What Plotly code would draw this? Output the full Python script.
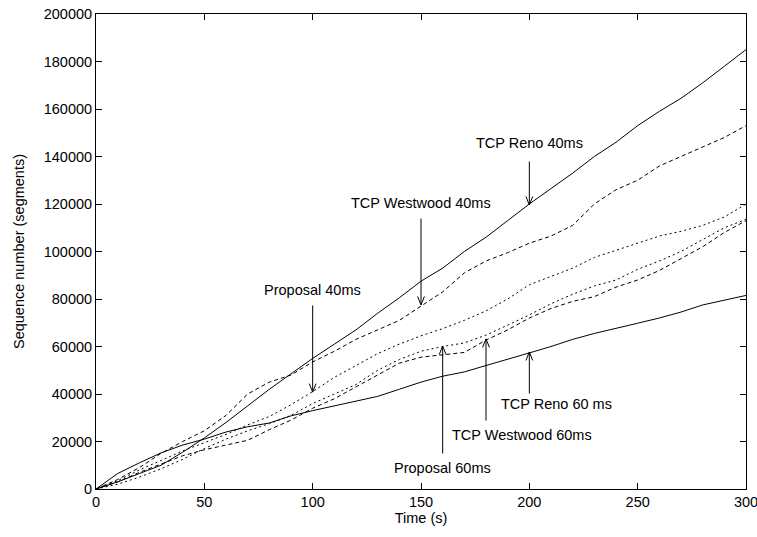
import plotly.graph_objects as go

time_s = list(range(0, 301, 10))

reno_40 = [0, 3000, 6500, 10000, 15500, 21500, 28000, 35000, 42000, 48500, 55000,
           61000, 67000, 74000, 80500, 87500, 93000, 100000, 106000, 113000, 120000,
           126500, 133000, 140000, 146000, 153000, 159000, 164500, 171000, 178000, 185000]
westwood_40 = [0, 4000, 9000, 15000, 20000, 24500, 31000, 40000, 45000, 48000, 53500,
               58000, 63000, 67000, 71000, 77000, 83000, 91000, 96000, 99500, 103500,
               106500, 111000, 120000, 126000, 130000, 136000, 140000, 144000, 148000, 153000]
proposal_40 = [0, 3500, 8000, 12000, 16000, 19500, 23000, 27000, 30500, 35500, 41000,
               47000, 52000, 57000, 61000, 64500, 67500, 71000, 75000, 80000, 86000,
               89500, 93000, 97500, 100500, 103500, 106500, 108500, 111000, 114500, 120000]
reno_60 = [0, 6500, 11000, 15200, 18500, 21000, 24000, 26200, 27800, 30800, 33000,
           35000, 37000, 39000, 42000, 45000, 47500, 49300, 52000, 54500, 57300,
           60000, 63000, 65500, 67500, 69800, 72000, 74500, 77500, 79500, 81500]
westwood_60 = [0, 3000, 7000, 10500, 14000, 16500, 18500, 20500, 25000, 29000, 34000,
               38000, 43000, 48000, 53000, 55500, 56500, 57500, 62700, 67000, 72000,
               76000, 79000, 81000, 85000, 88000, 92000, 97000, 102000, 108000, 113000]
proposal_60 = [0, 2000, 5000, 8500, 12500, 17000, 21000, 24500, 27500, 31000, 36000,
               40000, 44000, 50000, 54500, 58000, 60000, 61500, 64800, 69000, 73300,
               78000, 82000, 85500, 88000, 92500, 96000, 100000, 105000, 110000, 113500]

series = [
    ("TCP Reno 40ms", reno_40, "solid"),
    ("TCP Westwood 40ms", westwood_40, "4px,3px"),
    ("Proposal 40ms", proposal_40, "2px,3px"),
    ("TCP Reno 60 ms", reno_60, "solid"),
    ("TCP Westwood 60ms", westwood_60, "4px,3px"),
    ("Proposal 60ms", proposal_60, "2px,3px"),
]

# label text, arrow tip (x, y), arrow tail (x, y), text position (x, y)
labels = [
    ("TCP Reno 40ms", (200, 119600), (200, 138500), (200, 145500)),
    ("TCP Westwood 40ms", (150, 77500), (150, 114500), (150, 120300)),
    ("Proposal 40ms", (100, 40800), (100, 77900), (100, 83600)),
    ("TCP Reno 60 ms", (200, 57700), (200, 39600), (212.5, 35700)),
    ("TCP Westwood 60ms", (180, 63200), (180, 28200), (196.5, 22700)),
    ("Proposal 60ms", (160, 60200), (160, 14300), (160, 8800)),
]

FONT = "Liberation Sans, Arial, sans-serif"
FS = 14.5

fig = go.Figure()
for name, vals, dash in series:
    fig.add_trace(go.Scatter(x=time_s, y=vals, mode="lines", name=name,
                             line=dict(color="black", width=1, dash=dash),
                             showlegend=False))

annotations = []
for text, tip, tail, tpos in labels:
    # shaft
    annotations.append(dict(x=tip[0], y=tip[1], ax=tail[0], ay=tail[1],
                            axref="x", ayref="y", xref="x", yref="y",
                            text="", showarrow=True, arrowhead=0,
                            arrowwidth=1, arrowcolor="black", standoff=0))
    # open V head
    head_dy = -10 if tail[1] > tip[1] else 10
    for dx in (-4, 4):
        annotations.append(dict(x=tip[0], y=tip[1], ax=dx, ay=head_dy,
                                xref="x", yref="y", text="", showarrow=True,
                                arrowhead=0, arrowwidth=1, arrowcolor="black", standoff=0))
    annotations.append(dict(x=tpos[0], y=tpos[1], xref="x", yref="y", text=text,
                            showarrow=False, xanchor="center", yanchor="middle",
                            font=dict(family=FONT, size=FS, color="black")))

axis_common = dict(showline=True, linecolor="black", linewidth=1, mirror="ticks",
                   ticks="inside", ticklen=6, tickcolor="black", tickwidth=1,
                   showgrid=False, zeroline=False, ticklabeloverflow="allow",
                   tickfont=dict(family=FONT, size=FS, color="black"))

fig.update_layout(
    width=757, height=537,
    margin=dict(l=96, r=11, t=14, b=48, autoexpand=False),
    plot_bgcolor="white", paper_bgcolor="white",
    xaxis=dict(range=[0, 300], tickvals=[0, 50, 100, 150, 200, 250, 300],
               title=dict(text="Time (s)", standoff=2,
                          font=dict(family=FONT, size=FS, color="black")),
               **axis_common),
    yaxis=dict(range=[0, 200000], tickvals=list(range(0, 200001, 20000)),
               tickformat="d",
               title=dict(text="Sequence number (segments)", standoff=15,
                          font=dict(family=FONT, size=FS, color="black")),
               **axis_common),
    annotations=annotations,
)

fig.write_html("out.html")
